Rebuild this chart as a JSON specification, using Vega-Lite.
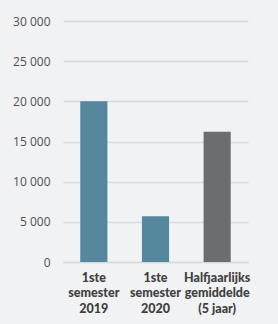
{
  "$schema": "https://vega.github.io/schema/vega-lite/v6.json",
  "autosize": {"type": "none"},
  "width": 185,
  "height": 241,
  "padding": {"left": 63, "top": 21, "right": 30, "bottom": 62},
  "background": "#f1f2f4",
  "config": {"view": {"stroke": null}},
  "data": {
    "values": [
      {"periode": "1ste|semester|2019", "aantal": 20000, "soort": "a"},
      {"periode": "1ste|semester|2020", "aantal": 5700, "soort": "a"},
      {"periode": "Halfjaarlijks|gemiddelde|(5 jaar)", "aantal": 16200, "soort": "b"}
    ]
  },
  "mark": {"type": "bar"},
  "encoding": {
    "x": {
      "field": "periode",
      "type": "nominal",
      "sort": null,
      "scale": {"paddingInner": 0.56, "paddingOuter": 0.28},
      "axis": {
        "title": null,
        "labelAngle": 0,
        "labelExpr": "split(datum.label, '|')",
        "labelFont": "Lato",
        "labelFontWeight": 900,
        "labelFontSize": 12.5,
        "labelColor": "#404040",
        "labelLineHeight": 15.5,
        "labelPadding": 9,
        "labelOverlap": false,
        "labelBound": false,
        "ticks": false,
        "domainColor": "#d9d9d9",
        "domainWidth": 1.5
      }
    },
    "y": {
      "field": "aantal",
      "type": "quantitative",
      "scale": {"domain": [0, 30000], "nice": false},
      "axis": {
        "title": null,
        "values": [0, 5000, 10000, 15000, 20000, 25000, 30000],
        "labelExpr": "replace(format(datum.value, ','), ',', ' ')",
        "domain": false,
        "ticks": false,
        "labelFont": "Open Sans",
        "labelFontSize": 12,
        "labelColor": "#505050",
        "labelPadding": 13,
        "gridColor": "#d9d9d9",
        "gridWidth": 1.5
      }
    },
    "color": {
      "field": "soort",
      "type": "nominal",
      "scale": {"domain": ["a", "b"], "range": ["#55879f", "#6b6e71"]},
      "legend": null
    }
  }
}
